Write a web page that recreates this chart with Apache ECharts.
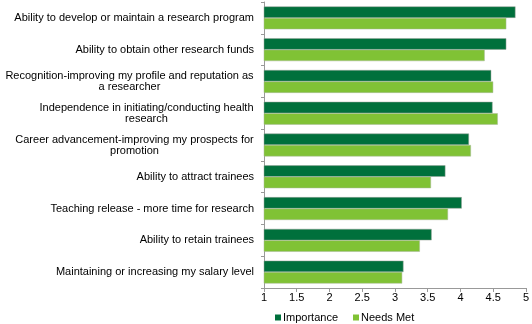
<!DOCTYPE html>
<html>
<head>
<meta charset="utf-8">
<style>
  html, body { margin: 0; padding: 0; background: #ffffff; }
  #chart { width: 532px; height: 324px; }
</style>
<script src="https://cdn.jsdelivr.net/npm/echarts@6/dist/echarts.min.js"></script>
</head>
<body>
<div id="chart"></div>
<script>
// Survey items, each possibly split over two lines
const categories = [
  ['Ability to develop or maintain a research program'],
  ['Ability to obtain other research funds'],
  ['Recognition-improving my profile and reputation as', 'a researcher'],
  ['Independence in initiating/conducting health', 'research'],
  ['Career advancement-improving my prospects for', 'promotion'],
  ['Ability to attract trainees'],
  ['Teaching release - more time for research'],
  ['Ability to retain trainees'],
  ['Maintaining or increasing my salary level']
];
const importance = [4.84, 4.70, 4.47, 4.49, 4.13, 3.77, 4.02, 3.56, 3.13];
const needsMet   = [4.70, 4.37, 4.50, 4.57, 4.16, 3.55, 3.81, 3.38, 3.11];
const seriesNames = ['Importance', 'Needs Met'];
const xTicks = { min: 1, max: 5, interval: 0.5 };

const FONT_FAMILY = '"Liberation Sans", Arial, sans-serif';
const LABEL_SIZE = 11;
const measureCtx = document.createElement('canvas').getContext('2d');
measureCtx.font = LABEL_SIZE + 'px ' + FONT_FAMILY;

// Wrapped labels: lines centred on each other, block right-aligned at the axis
const rich = {};
const labelText = categories.map((lines, i) => {
  if (lines.length === 1) return lines[0];
  const w = Math.ceil(Math.max.apply(null, lines.map(l => measureCtx.measureText(l).width)));
  rich['c' + i] = { width: w, align: 'center', fontSize: LABEL_SIZE, lineHeight: 11,
    fontFamily: FONT_FAMILY, color: '#000' };
  return lines.map(l => '{c' + i + '|' + l + '}').join('\n');
});

const chart = echarts.init(document.getElementById('chart'), null, { renderer: 'canvas' });
chart.setOption({
  animation: false,
  backgroundColor: '#ffffff',
  grid: { left: 264, right: 3, top: 2, bottom: 36, containLabel: false },
  legend: {
    data: seriesNames,
    top: 307,
    left: 270,
    itemWidth: 6,
    itemHeight: 6,
    itemGap: 15,
    icon: 'rect',
    itemStyle: { borderWidth: 0 },
    textStyle: { fontSize: 11, color: '#000', fontFamily: FONT_FAMILY, padding: [0, 0, 0, -3] }
  },
  xAxis: {
    type: 'value',
    min: xTicks.min,
    max: xTicks.max,
    interval: xTicks.interval,
    splitLine: { show: false },
    axisLine: { show: true, lineStyle: { color: '#999999', width: 1 } },
    axisTick: { show: true, length: 4, lineStyle: { color: '#999999' } },
    axisLabel: { fontSize: 11, color: '#000', margin: 4, fontFamily: FONT_FAMILY }
  },
  yAxis: {
    type: 'category',
    inverse: true,
    data: labelText,
    axisLine: { show: true, lineStyle: { color: '#999999', width: 1 } },
    axisTick: { show: true, length: 3, lineStyle: { color: '#999999' } },
    axisLabel: { fontSize: LABEL_SIZE, color: '#000', margin: 10, align: 'right', lineHeight: 11,
      fontFamily: FONT_FAMILY, rich: rich }
  },
  series: [
    { name: seriesNames[0], type: 'bar', data: importance, barGap: '0%', barCategoryGap: '28%',
      itemStyle: { color: '#00703c', borderColor: '#9aa59a', borderWidth: 0.5 } },
    { name: seriesNames[1], type: 'bar', data: needsMet, barGap: '0%', barCategoryGap: '28%',
      itemStyle: { color: '#80c235', borderColor: '#a8b89a', borderWidth: 0.5 } }
  ]
});
</script>
</body>
</html>
